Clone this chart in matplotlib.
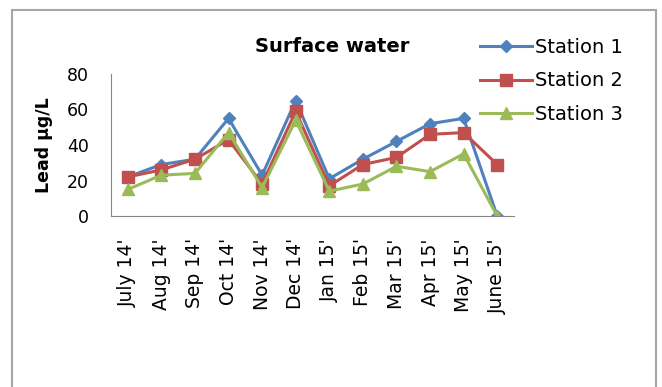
import numpy as np
import matplotlib
matplotlib.use('Agg')
import matplotlib.pyplot as plt
from matplotlib.patches import Rectangle

months = ["July 14'", "Aug 14'", "Sep 14'", "Oct 14'", "Nov 14'", "Dec 14'",
          "Jan 15'", "Feb 15'", "Mar 15'", "Apr 15'", "May 15'", "June 15'"]
station1 = [22, 29, 32, 55, 23, 65, 21, 32, 42, 52, 55, 0]
station2 = [22, 26, 32, 43, 18, 59, 17, 29, 33, 46, 47, 29]
station3 = [15, 23, 24, 47, 16, 54, 14, 18, 28, 25, 35, 0]

plt.rcParams['font.family'] = ['DejaVu Sans']

fig = plt.figure(figsize=(6.62, 3.87), dpi=100)
fig.patches.append(Rectangle((12/662, -0.1), 644/662, 1 - 10/387 + 0.1,
                             transform=fig.transFigure, fill=False,
                             edgecolor='#a6a6a6', linewidth=1.5))

ax = fig.add_axes([111/662, 1 - 216/387, 403/662, 142/387])
x = np.arange(len(months))
ax.plot(x, station1, '-D', color='#4F81BD', lw=2.2, ms=6.5, label='Station 1')
ax.plot(x, station2, '-s', color='#C0504D', lw=2.2, ms=8.5, label='Station 2')
ax.plot(x, station3, '-^', color='#9BBB59', lw=2.2, ms=8.5, label='Station 3')

ax.set_xlim(-0.5, len(months) - 0.5)
ax.set_ylim(0, 80)
ax.set_yticks([0, 20, 40, 60, 80])
ax.tick_params(axis='y', labelsize=12.5, length=0, pad=16)
ax.set_xticks(x)
ax.set_xticklabels(months, rotation=90, fontsize=13.5)
ax.tick_params(axis='x', length=0, pad=16)
for s in ['top', 'right']:
    ax.spines[s].set_visible(False)
for s in ['left', 'bottom']:
    ax.spines[s].set_color('#868686')
ax.set_ylabel('Lead μg/L', fontsize=12.5, fontweight='bold', labelpad=10)

fig.text(332/662, 1 - 47/387, 'Surface water', fontsize=14, fontweight='bold',
         ha='center', va='center')

fig.legend(loc='upper left', bbox_to_anchor=(472/662, 1 - 30/387),
           frameon=False, fontsize=14, handlelength=2.7, handletextpad=0.15,
           labelspacing=0.75, borderaxespad=0)

fig.savefig('out.png', dpi=100)
